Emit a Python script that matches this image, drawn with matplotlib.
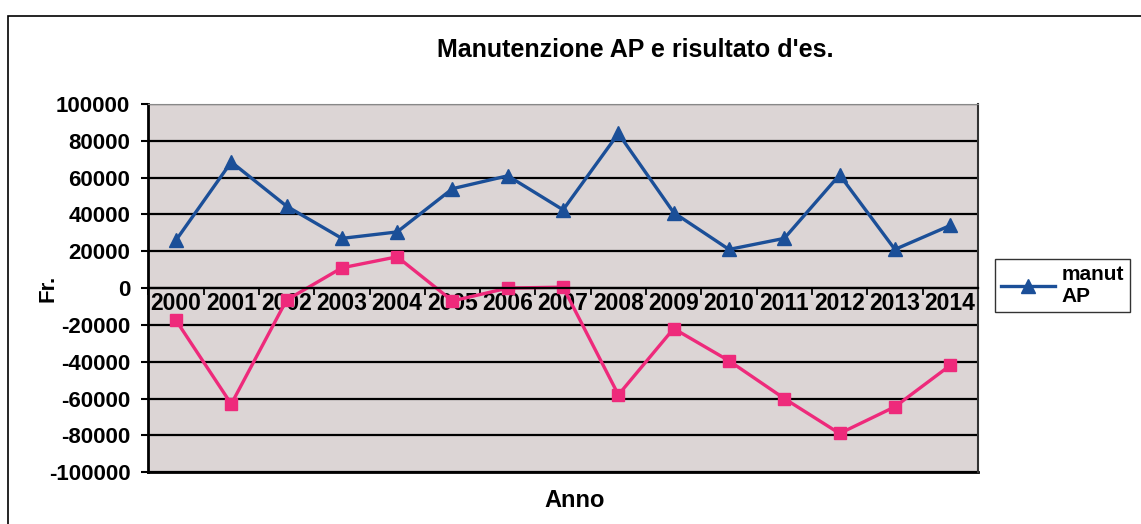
import numpy as np
import matplotlib
matplotlib.use("Agg")
import matplotlib.pyplot as plt
from matplotlib.patches import Rectangle

plt.rcParams['font.family'] = ['Liberation Sans', 'DejaVu Sans']
plt.rcParams['axes.unicode_minus'] = False

# dati
anni = ['2000', '2001', '2002', '2003', '2004', '2005', '2006', '2007',
        '2008', '2009', '2010', '2011', '2012', '2013', '2014']
manut_ap = [26000, 68500, 44500, 27000, 30500, 54000, 61000, 42500,
            84000, 41000, 21000, 27000, 61500, 21000, 34000]
risultato = [-17500, -63000, -6500, 11000, 17000, -7000, 0, 500,
             -58000, -22000, -39500, -60000, -79000, -64500, -42000]

blu = '#1b4f98'
rosa = '#ee2a7b'

fig = plt.figure(figsize=(11.41, 5.24), dpi=100)
fig.patch.set_facecolor('white')
ax = fig.add_axes([0.13, 0.099, 0.727, 0.7025])
ax.set_facecolor('#dcd5d5')

x = np.arange(len(anni))
ax.plot(x, manut_ap, color=blu, lw=2.4, marker='^', ms=10, label='manut\nAP')
ax.plot(x, risultato, color=rosa, lw=2.4, marker='s', ms=8, label='_nolegend_')

ax.set_xlim(-0.5, len(anni) - 0.5)
ax.set_ylim(-100000, 100000)
ax.set_yticks(np.arange(-100000, 100001, 20000))
ax.yaxis.grid(True, color='black', lw=1.6)
ax.set_axisbelow(True)
ax.tick_params(axis='y', labelsize=16, length=5, width=1.5, pad=8)
for t in ax.get_yticklabels():
    t.set_fontweight('bold')

# asse categorie sulla linea dello zero
ax.spines['bottom'].set_position(('data', 0))
ax.spines['bottom'].set_linewidth(1.6)
ax.spines['left'].set_linewidth(2)
ax.spines['top'].set_color('#888888')
ax.spines['right'].set_color('#333333')
ax.spines['right'].set_linewidth(1.5)
ax.axhline(-100000, color='black', lw=2, clip_on=False)
ax.set_xticks(x)
ax.set_xticklabels(anni, fontsize=16.5, fontweight='bold')
ax.set_xticks(np.arange(-0.5, len(anni)), minor=True)
ax.tick_params(axis='x', which='major', length=0, pad=3)
ax.tick_params(axis='x', which='minor', length=5, width=1.3)

fig.text(0.557, 0.905, "Manutenzione AP e risultato d'es.", fontsize=18,
         fontweight='bold', ha='center', va='center')
ax.set_ylabel('Fr.', fontsize=16, fontweight='bold')
ax.yaxis.set_label_coords(-0.108, 0.5)
fig.text(0.504, 0.045, 'Anno', fontsize=17, fontweight='bold',
         ha='center', va='center')

ax.legend(loc='center left', bbox_to_anchor=(0.872, 0.455),
          bbox_transform=fig.transFigure, frameon=True,
          fancybox=False, edgecolor='black', handlelength=2.6,
          borderaxespad=0, borderpad=0.3, handletextpad=0.3,
          prop={'weight': 'bold', 'size': 15})

# cornice esterna
fig.patches.append(Rectangle((0.007, -0.01), 1.0, 0.98, transform=fig.transFigure,
                             fill=False, edgecolor='black', lw=1.2))

fig.savefig('out.png', dpi=100)
